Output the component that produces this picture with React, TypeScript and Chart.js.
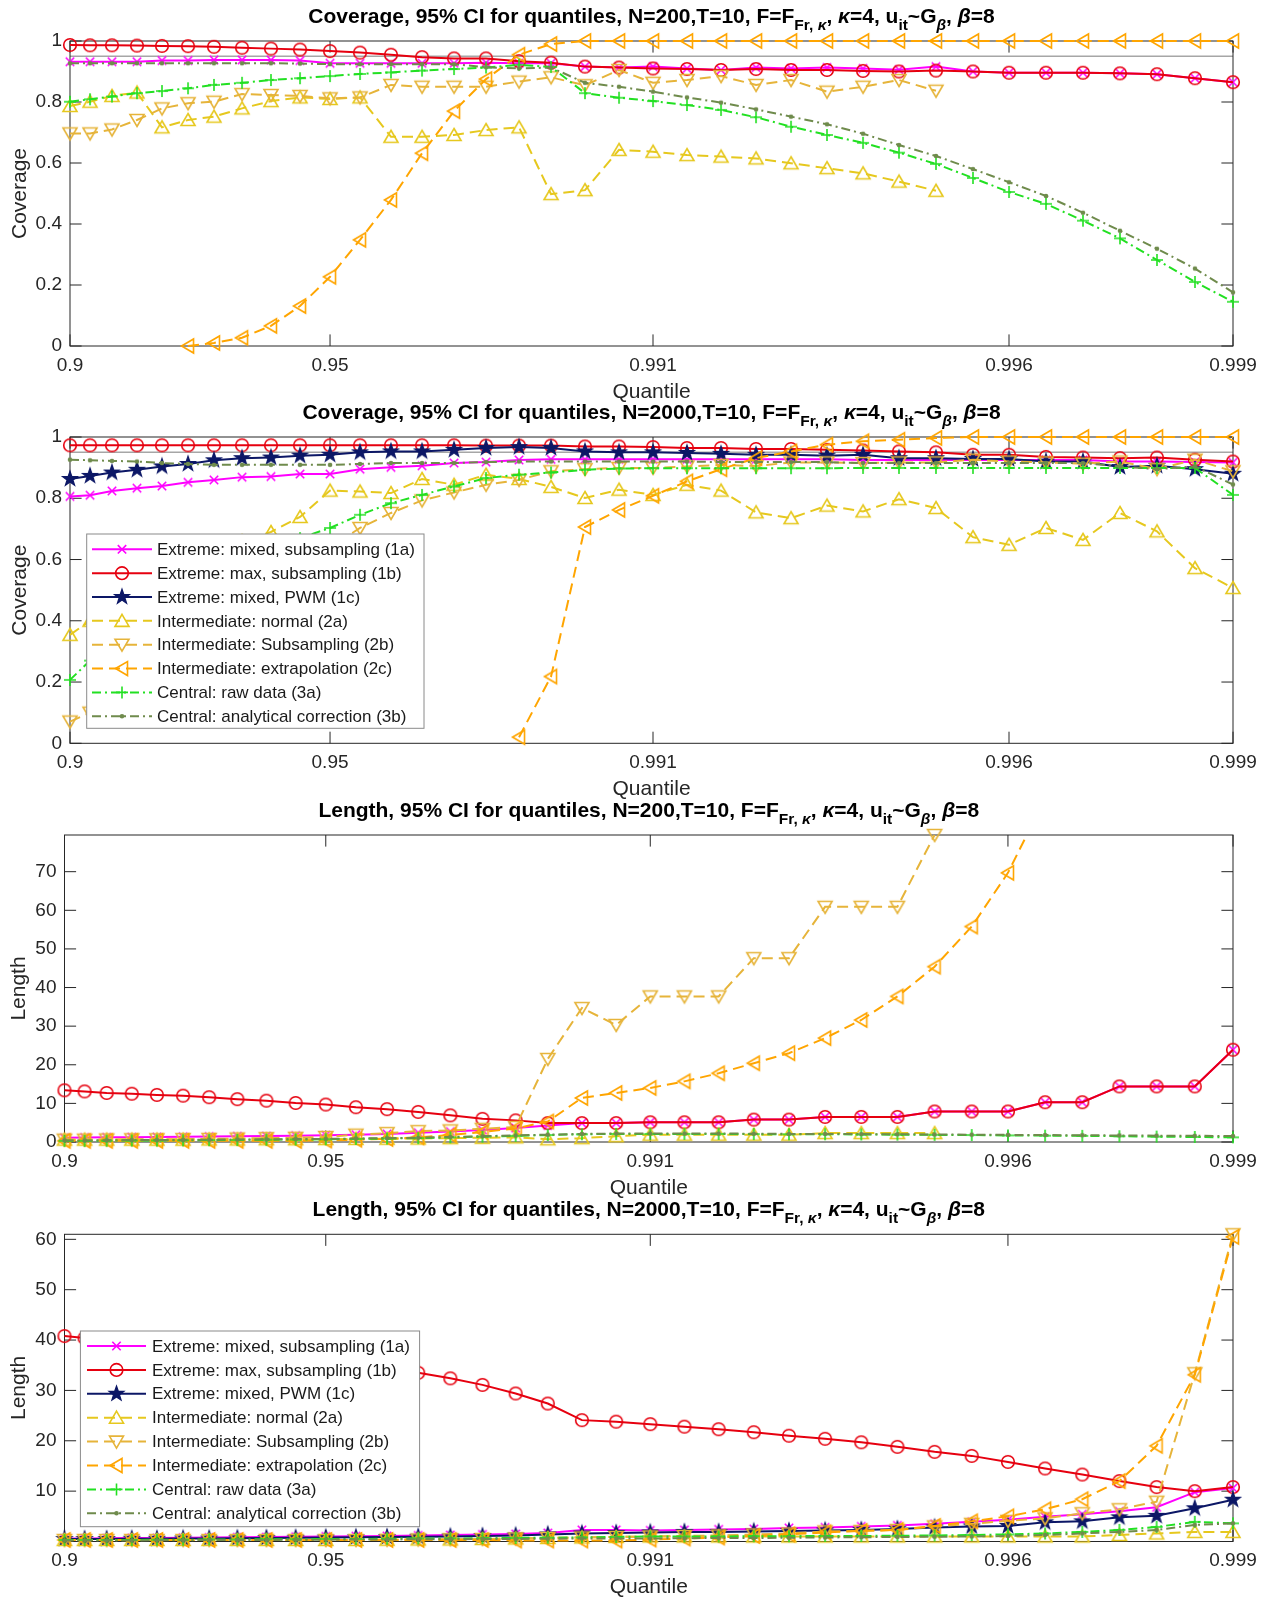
import React, { useEffect, useRef } from 'react';
import { Chart, registerables } from 'chart.js';

Chart.register(...registerables);

const FONT = '"Liberation Sans", Arial, Helvetica, sans-serif';
const AX = '#262626';
const _ = null;

// ---------------- data ----------------
// position of each of the 37 quantile levels along the (non-uniform) x axis, normalised 0..1
const QUANT_POS = [0, 0.0172, 0.0361, 0.0576, 0.0791, 0.1015, 0.1238, 0.1479, 0.1728, 0.1978, 0.2236,
  0.2494, 0.276, 0.3027, 0.3302, 0.3577, 0.3861, 0.4136, 0.4428, 0.4721, 0.5013, 0.5305, 0.5598,
  0.5899, 0.62, 0.6509, 0.6819, 0.7128, 0.7446, 0.7764, 0.8074, 0.8392, 0.871, 0.9028, 0.9346,
  0.9673, 1];
const X_TICK_INDEX = [0, 10, 20, 30, 36];
const X_TICK_LABELS = ['0.9', '0.95', '0.991', '0.996', '0.999'];
const COV_TICKS = [0, 0.2, 0.4, 0.6, 0.8, 1];
const LEN200_TICKS = [0, 10, 20, 30, 40, 50, 60, 70];
const LEN2000_TICKS = [10, 20, 30, 40, 50, 60];
const TARGET_COVERAGE = 0.95;

const SERIES_LABELS = [
  'Extreme: mixed, subsampling (1a)',
  'Extreme: max, subsampling (1b)',
  'Extreme: mixed, PWM (1c)',
  'Intermediate: normal (2a)',
  'Intermediate: Subsampling (2b)',
  'Intermediate: extrapolation (2c)',
  'Central: raw data (3a)',
  'Central: analytical correction (3b)',
];

// Coverage, N=200
const COV200_1A = [0.932, 0.932, 0.932, 0.932, 0.936, 0.936, 0.938, 0.938, 0.938, 0.936, 0.927, 0.927, 0.927, 0.927, 0.927,
  0.929, 0.927, 0.927, 0.916, 0.913, 0.916, 0.91, 0.905, 0.913, 0.91, 0.913, 0.91,
  0.906, 0.916, 0.9, 0.896, 0.896, 0.896, 0.894, 0.891, 0.878, 0.865];
const COV200_1B = [0.987, 0.986, 0.986, 0.985, 0.984, 0.983, 0.981, 0.978, 0.975, 0.972, 0.967, 0.962, 0.955, 0.947, 0.943,
  0.943, 0.934, 0.929, 0.916, 0.913, 0.91, 0.908, 0.905, 0.908, 0.905, 0.905, 0.902,
  0.9, 0.903, 0.9, 0.896, 0.896, 0.896, 0.894, 0.891, 0.878, 0.865];
const COV200_2A = [0.787, 0.801, 0.82, 0.831, 0.717, 0.741, 0.752, 0.779, 0.803, 0.815, 0.81, 0.815, 0.686, 0.686, 0.692,
  0.708, 0.717, 0.498, 0.511, 0.643, 0.637, 0.626, 0.621, 0.615, 0.599, 0.583, 0.566,
  0.539, 0.509, _, _, _, _, _, _, _, _];
const COV200_2B = [0.697, 0.697, 0.71, 0.741, 0.779, 0.796, 0.801, 0.826, 0.823, 0.82, 0.812, 0.815, 0.856, 0.85, 0.85,
  0.85, 0.867, 0.881, 0.855, 0.905, 0.863, 0.872, 0.885, 0.856, 0.872, 0.834, 0.85,
  0.872, 0.837, _, _, _, _, _, _, _, _];
const COV200_2C = [_, _, _, _, _, 0, 0.01, 0.027, 0.066, 0.131, 0.227, 0.348, 0.479, 0.632, 0.77,
  0.875, 0.955, 0.99, 1, 1, 1, 1, 1, 1, 1, 1, 1,
  1, 1, 1, 1, 1, 1, 1, 1, 1, 1];
const COV200_3A = [0.801, 0.809, 0.818, 0.829, 0.836, 0.845, 0.856, 0.863, 0.872, 0.878, 0.885, 0.892, 0.897, 0.903, 0.908,
  0.913, 0.922, 0.915, 0.829, 0.814, 0.803, 0.79, 0.774, 0.75, 0.719, 0.692, 0.666,
  0.634, 0.597, 0.551, 0.505, 0.466, 0.411, 0.353, 0.282, 0.21, 0.145];
const COV200_3B = [0.927, 0.927, 0.927, 0.927, 0.927, 0.927, 0.927, 0.927, 0.927, 0.926, 0.924, 0.924, 0.924, 0.924, 0.924,
  0.914, 0.91, 0.913, 0.863, 0.85, 0.834, 0.815, 0.798, 0.776, 0.752, 0.727, 0.696,
  0.659, 0.623, 0.58, 0.537, 0.492, 0.437, 0.378, 0.319, 0.254, 0.176];

// Coverage, N=2000
const COV2000_1A = [0.806, 0.81, 0.824, 0.833, 0.84, 0.852, 0.86, 0.869, 0.871, 0.879, 0.879, 0.895, 0.901, 0.906, 0.915,
  0.918, 0.925, 0.927, 0.927, 0.927, 0.927, 0.927, 0.927, 0.927, 0.927, 0.927, 0.925,
  0.925, 0.925, 0.925, 0.925, 0.925, 0.925, 0.92, 0.92, 0.918, 0.917];
const COV2000_1B = [0.973, 0.973, 0.973, 0.973, 0.973, 0.973, 0.973, 0.973, 0.973, 0.973, 0.973, 0.973, 0.973, 0.973, 0.973,
  0.972, 0.972, 0.972, 0.969, 0.969, 0.967, 0.964, 0.964, 0.961, 0.961, 0.958, 0.956,
  0.953, 0.95, 0.942, 0.942, 0.935, 0.933, 0.931, 0.933, 0.926, 0.92];
const COV2000_1C = [0.863, 0.873, 0.884, 0.893, 0.904, 0.912, 0.924, 0.931, 0.933, 0.939, 0.942, 0.95, 0.953, 0.953, 0.958,
  0.964, 0.967, 0.964, 0.953, 0.95, 0.95, 0.948, 0.945, 0.942, 0.942, 0.939, 0.942,
  0.931, 0.931, 0.928, 0.928, 0.92, 0.92, 0.902, 0.906, 0.895, 0.88];
const COV2000_2A = [0.354, 0.4, 0.44, 0.49, 0.53, 0.57, 0.61, 0.66, 0.69, 0.739, 0.825, 0.822, 0.817, 0.863, 0.844,
  0.877, 0.863, 0.837, 0.801, 0.828, 0.811, 0.844, 0.825, 0.754, 0.735, 0.776, 0.757,
  0.797, 0.768, 0.673, 0.648, 0.703, 0.664, 0.752, 0.692, 0.572, 0.507];
const COV2000_2B = [0.071, 0.1, 0.15, 0.2, 0.26, 0.32, 0.38, 0.45, 0.52, 0.58, 0.64, 0.703, 0.752, 0.793, 0.819,
  0.844, 0.86, 0.888, 0.895, 0.899, 0.899, 0.904, 0.909, 0.905, 0.917, 0.917, 0.915,
  0.917, 0.917, 0.926, 0.92, 0.917, 0.913, 0.92, 0.895, 0.926, 0.888];
const COV2000_2C = [_, _, _, _, _, _, _, _, _, _, _, _, _, _, _,
  _, 0.02, 0.218, 0.706, 0.762, 0.808, 0.855, 0.895, 0.931, 0.953, 0.975, 0.986,
  0.991, 0.997, 1, 1, 1, 1, 1, 1, 1, 1];
const COV2000_3A = [0.207, 0.27, 0.33, 0.39, 0.44, 0.5, 0.55, 0.6, 0.64, 0.67, 0.703, 0.746, 0.784, 0.811, 0.839,
  0.866, 0.877, 0.884, 0.893, 0.897, 0.898, 0.898, 0.898, 0.898, 0.898, 0.898, 0.899,
  0.899, 0.899, 0.899, 0.899, 0.899, 0.899, 0.899, 0.899, 0.899, 0.811];
const COV2000_3B = [0.926, 0.924, 0.922, 0.92, 0.915, 0.912, 0.909, 0.909, 0.909, 0.909, 0.909, 0.912, 0.915, 0.915, 0.915,
  0.918, 0.92, 0.92, 0.92, 0.92, 0.92, 0.92, 0.918, 0.918, 0.918, 0.918, 0.915,
  0.915, 0.915, 0.915, 0.915, 0.915, 0.915, 0.904, 0.895, 0.904, 0.845];

// Length, N=200
const LEN200_1A = [1.1, 1.15, 1.2, 1.25, 1.3, 1.35, 1.4, 1.5, 1.55, 1.65, 1.75, 1.9, 2.1, 2.4, 2.7,
  3.1, 3.6, 4.3, 4.9, 4.9, 5.1, 5.1, 5.1, 5.8, 5.8, 6.5, 6.5,
  6.5, 7.9, 7.9, 7.9, 10.3, 10.3, 14.4, 14.4, 14.4, 23.9];
const LEN200_1B = [13.4, 13.1, 12.7, 12.5, 12.2, 12.0, 11.6, 11.1, 10.7, 10.1, 9.7, 9.0, 8.5, 7.8, 6.9,
  6.0, 5.6, 4.9, 4.9, 4.9, 5.1, 5.1, 5.1, 5.8, 5.8, 6.5, 6.5,
  6.5, 7.9, 7.9, 7.9, 10.3, 10.3, 14.4, 14.4, 14.4, 23.9];
const LEN200_2A = [0.6, 0.6, 0.6, 0.6, 0.6, 0.6, 0.65, 0.65, 0.7, 0.7, 0.75, 0.8, 0.85, 0.9, 1.0,
  1.1, 1.2, 0.7, 1.0, 1.5, 1.9, 1.9, 1.9, 1.9, 1.9, 2.3, 2.3,
  2.3, 2.3, _, _, _, _, _, _, _, _];
const LEN200_2B = [0.6, 0.6, 0.65, 0.7, 0.7, 0.75, 0.8, 0.9, 1.0, 1.1, 1.3, 1.9, 2.3, 2.8, 3.0,
  3.4, 3.9, 21.5, 34.7, 30.3, 37.7, 37.7, 37.7, 47.6, 47.6, 60.9, 60.9,
  60.9, 79.5, _, _, _, _, _, _, _, _];
const LEN200_2C = [0.3, 0.3, 0.3, 0.3, 0.3, 0.3, 0.3, 0.3, 0.3, 0.3, 0.4, 0.6, 0.8, 1.2, 1.8,
  2.6, 3.5, 5.3, 11.4, 12.7, 14.0, 15.7, 17.8, 20.4, 23.0, 26.9, 31.6,
  37.7, 45.4, 55.8, 69.7, 89, 112, 140, 175, 220, 280];
const LEN200_3A = [0.3, 0.3, 0.35, 0.4, 0.4, 0.45, 0.5, 0.55, 0.6, 0.65, 0.7, 0.8, 0.9, 1.0, 1.2,
  1.4, 1.6, 1.8, 2.0, 2.1, 2.1, 2.1, 2.1, 2.05, 2.0, 2.0, 1.95,
  1.9, 1.85, 1.8, 1.7, 1.65, 1.6, 1.5, 1.4, 1.3, 1.2];
const LEN200_3B = [0.4, 0.4, 0.45, 0.5, 0.5, 0.55, 0.6, 0.65, 0.7, 0.75, 0.8, 0.9, 1.0, 1.1, 1.3,
  1.5, 1.7, 1.9, 2.1, 2.2, 2.2, 2.2, 2.2, 2.15, 2.1, 2.1, 2.05,
  2.0, 1.95, 1.9, 1.85, 1.8, 1.75, 1.7, 1.65, 1.6, 1.55];

// Length, N=2000
const LEN2000_1A = [0.6, 0.6, 0.65, 0.7, 0.7, 0.75, 0.8, 0.85, 0.9, 0.95, 1.0, 1.05, 1.1, 1.2, 1.3,
  1.4, 1.5, 1.7, 2.3, 2.3, 2.2, 2.3, 2.4, 2.5, 2.7, 2.8, 3.0,
  3.2, 3.5, 3.9, 4.3, 4.9, 5.4, 6.0, 6.8, 9.8, 10.6];
const LEN2000_1B = [40.8, 40.4, 40.0, 39.6, 39.2, 38.8, 38.3, 37.8, 37.2, 36.6, 35.9, 35.1, 34.3, 33.5, 32.4,
  31.1, 29.4, 27.4, 24.1, 23.8, 23.3, 22.8, 22.3, 21.7, 21.0, 20.4, 19.7,
  18.8, 17.8, 17.0, 15.8, 14.5, 13.3, 12.0, 10.8, 10.0, 10.8];
const LEN2000_1C = [0.5, 0.5, 0.5, 0.55, 0.55, 0.6, 0.6, 0.65, 0.7, 0.75, 0.8, 0.85, 0.9, 0.95, 1.0,
  1.1, 1.2, 1.4, 1.6, 1.7, 1.8, 1.9, 1.9, 2.0, 2.1, 2.2, 2.3,
  2.5, 2.8, 3.0, 3.1, 3.8, 4.0, 4.8, 5.1, 6.6, 8.3];
const LEN2000_2A = [0.3, 0.3, 0.3, 0.3, 0.3, 0.3, 0.3, 0.3, 0.3, 0.3, 0.3, 0.3, 0.35, 0.4, 0.4,
  0.5, 0.6, 0.7, 0.8, 0.9, 1.0, 1.0, 1.0, 1.0, 1.0, 1.0, 1.0,
  1.0, 1.0, 1.0, 1.0, 1.0, 1.0, 1.3, 1.6, 1.9, 1.9];
const LEN2000_2B = [0.3, 0.3, 0.3, 0.3, 0.3, 0.3, 0.3, 0.3, 0.3, 0.3, 0.3, 0.3, 0.35, 0.4, 0.45,
  0.5, 0.6, 0.7, 0.8, 0.9, 1.0, 1.1, 1.2, 1.4, 1.6, 2.0, 2.1,
  2.3, 3.0, 3.5, 4.1, 4.6, 5.6, 6.4, 7.9, 33.4, 61.0];
const LEN2000_2C = [0.3, 0.3, 0.3, 0.3, 0.3, 0.3, 0.3, 0.3, 0.3, 0.3, 0.3, 0.3, 0.3, 0.3, 0.3,
  0.3, 0.2, 0.2, 0.2, 0.2, 0.4, 0.6, 0.8, 1.1, 1.4, 1.8, 2.1,
  2.3, 3.1, 4.0, 5.0, 6.4, 8.4, 12.0, 19.0, 33.1, 60.5];
const LEN2000_3A = [0.3, 0.3, 0.3, 0.3, 0.35, 0.35, 0.4, 0.4, 0.45, 0.45, 0.5, 0.5, 0.55, 0.6, 0.6,
  0.65, 0.7, 0.75, 0.8, 0.9, 1.0, 1.0, 1.0, 1.05, 1.05, 1.1, 1.1,
  1.15, 1.2, 1.3, 1.4, 1.6, 1.9, 2.3, 2.9, 3.9, 3.6];
const LEN2000_3B = [0.2, 0.2, 0.2, 0.2, 0.25, 0.25, 0.3, 0.3, 0.3, 0.35, 0.35, 0.4, 0.4, 0.45, 0.45,
  0.5, 0.5, 0.55, 0.6, 0.6, 0.6, 0.65, 0.7, 0.7, 0.75, 0.8, 0.85,
  0.9, 0.95, 1.0, 1.1, 1.3, 1.6, 1.9, 2.3, 3.3, 3.6];

// ---------------- styles ----------------
type MarkerKind = 'x' | 'circle' | 'star' | 'triUp' | 'triDown' | 'triLeft' | 'plus' | 'dot';
const SERIES_STYLE: { color: string; dash: number[]; marker: MarkerKind; width: number }[] = [
  { color: '#FF00FF', dash: [], marker: 'x', width: 2 },
  { color: '#E6000F', dash: [], marker: 'circle', width: 2 },
  { color: '#0C1766', dash: [], marker: 'star', width: 2 },
  { color: '#E6C81E', dash: [11, 6], marker: 'triUp', width: 2 },
  { color: '#E6B43A', dash: [11, 6], marker: 'triDown', width: 2 },
  { color: '#FFA500', dash: [11, 6], marker: 'triLeft', width: 2 },
  { color: '#22E022', dash: [9, 4, 2, 4], marker: 'plus', width: 2 },
  { color: '#6F8B4C', dash: [9, 4, 2, 4], marker: 'dot', width: 2 },
];

function drawMarker(ctx: CanvasRenderingContext2D, kind: MarkerKind, x: number, y: number, color: string) {
  ctx.save();
  ctx.setLineDash([]);
  ctx.strokeStyle = color;
  ctx.fillStyle = color;
  ctx.lineWidth = 1.6;
  ctx.lineJoin = 'miter';
  ctx.beginPath();
  switch (kind) {
    case 'circle':
      ctx.arc(x, y, 6.3, 0, Math.PI * 2);
      ctx.stroke();
      break;
    case 'x': {
      const r = 4.2;
      ctx.moveTo(x - r, y - r); ctx.lineTo(x + r, y + r);
      ctx.moveTo(x + r, y - r); ctx.lineTo(x - r, y + r);
      ctx.stroke();
      break;
    }
    case 'plus': {
      const r = 6;
      ctx.moveTo(x - r, y); ctx.lineTo(x + r, y);
      ctx.moveTo(x, y - r); ctx.lineTo(x, y + r);
      ctx.stroke();
      break;
    }
    case 'triUp':
      ctx.moveTo(x, y - 6.5); ctx.lineTo(x + 7, y + 5.5); ctx.lineTo(x - 7, y + 5.5); ctx.closePath();
      ctx.stroke();
      break;
    case 'triDown':
      ctx.moveTo(x, y + 6.5); ctx.lineTo(x + 7, y - 5.5); ctx.lineTo(x - 7, y - 5.5); ctx.closePath();
      ctx.stroke();
      break;
    case 'triLeft':
      ctx.moveTo(x - 6.5, y); ctx.lineTo(x + 5.5, y - 7); ctx.lineTo(x + 5.5, y + 7); ctx.closePath();
      ctx.stroke();
      break;
    case 'star': {
      const R = 7.8, r = 3.1;
      for (let i = 0; i < 10; i++) {
        const a = -Math.PI / 2 + (i * Math.PI) / 5;
        const rr = i % 2 === 0 ? R : r;
        const px = x + Math.cos(a) * rr, py = y + Math.sin(a) * rr;
        if (i === 0) ctx.moveTo(px, py); else ctx.lineTo(px, py);
      }
      ctx.closePath();
      ctx.fill();
      ctx.lineWidth = 1.2;
      ctx.stroke();
      break;
    }
    case 'dot':
      ctx.arc(x, y, 2.3, 0, Math.PI * 2);
      ctx.fill();
      break;
  }
  ctx.restore();
}

function markerCanvas(kind: MarkerKind, color: string): HTMLCanvasElement {
  const c = document.createElement('canvas');
  c.width = 24; c.height = 24;
  const ctx = c.getContext('2d')!;
  drawMarker(ctx, kind, 12, 12, color);
  return c;
}

type Seg = { t: string; sub?: boolean; it?: boolean };
const TITLE_TAIL: Seg[] = [
  { t: 'Fr, ', sub: true }, { t: 'κ', sub: true, it: true }, { t: ', ' }, { t: 'κ', it: true },
  { t: '=4, u' }, { t: 'it', sub: true }, { t: '~G' }, { t: 'β', sub: true, it: true },
  { t: ', ' }, { t: 'β', it: true }, { t: '=8' },
];

type LegendDef = { x0: number; y0: number; x1: number; y1: number; rowY: number; step: number; lx0: number; lx1: number; mx: number; tx: number };
type Panel = {
  canvasTop: number; canvasH: number; plotTop: number; plotBottom: number; plotLeft: number; plotRight: number;
  yMin: number; yMax: number; yTicks: number[]; ref: number | null; head: string; yLabel: string; yLabelX: number;
  series: ((number | null)[] | null)[]; legend: LegendDef | null;
};

const PANELS: Panel[] = [
  {
    canvasTop: 0, canvasH: 410, plotTop: 41, plotBottom: 346, plotLeft: 70, plotRight: 1233,
    yMin: 0, yMax: 1, yTicks: COV_TICKS, ref: TARGET_COVERAGE,
    head: 'Coverage, 95% CI for quantiles, N=200,T=10, F=F', yLabel: 'Coverage', yLabelX: 20.5,
    series: [COV200_1A, COV200_1B, null, COV200_2A, COV200_2B, COV200_2C, COV200_3A, COV200_3B], legend: null,
  },
  {
    canvasTop: 396, canvasH: 410, plotTop: 437, plotBottom: 743.3, plotLeft: 70, plotRight: 1233,
    yMin: 0, yMax: 1, yTicks: COV_TICKS, ref: TARGET_COVERAGE,
    head: 'Coverage, 95% CI for quantiles, N=2000,T=10, F=F', yLabel: 'Coverage', yLabelX: 20.5,
    series: [COV2000_1A, COV2000_1B, COV2000_1C, COV2000_2A, COV2000_2B, COV2000_2C, COV2000_3A, COV2000_3B],
    legend: { x0: 86.7, y0: 534, x1: 424, y1: 728.3, rowY: 549.3, step: 23.85, lx0: 92, lx1: 152, mx: 122, tx: 157 },
  },
  {
    canvasTop: 790, canvasH: 412, plotTop: 835, plotBottom: 1142, plotLeft: 64.5, plotRight: 1233,
    yMin: 0, yMax: 79.5, yTicks: LEN200_TICKS, ref: null,
    head: 'Length, 95% CI for quantiles, N=200,T=10, F=F', yLabel: 'Length', yLabelX: 19,
    series: [LEN200_1A, LEN200_1B, null, LEN200_2A, LEN200_2B, LEN200_2C, LEN200_3A, LEN200_3B], legend: null,
  },
  {
    canvasTop: 1185, canvasH: 417, plotTop: 1234.3, plotBottom: 1541.5, plotLeft: 64.5, plotRight: 1233,
    yMin: 0, yMax: 61, yTicks: LEN2000_TICKS, ref: null,
    head: 'Length, 95% CI for quantiles, N=2000,T=10, F=F', yLabel: 'Length', yLabelX: 19,
    series: [LEN2000_1A, LEN2000_1B, LEN2000_1C, LEN2000_2A, LEN2000_2B, LEN2000_2C, LEN2000_3A, LEN2000_3B],
    legend: { x0: 80.4, y0: 1331, x1: 419.6, y1: 1526.7, rowY: 1346, step: 23.9, lx0: 87, lx1: 146, mx: 116.5, tx: 152 },
  },
];

function drawTitle(ctx: CanvasRenderingContext2D, head: string, cx: number, cy: number) {
  const size = 21, subSize = 15.5;
  const segs: Seg[] = [{ t: head }, ...TITLE_TAIL];
  const font = (s: Seg) => `${s.it ? 'italic ' : ''}bold ${s.sub ? subSize : size}px ${FONT}`;
  let total = 0;
  const ws = segs.map((s) => { ctx.font = font(s); const w = ctx.measureText(s.t).width; total += w; return w; });
  let x = cx - total / 2;
  const base = cy + size * 0.36;
  ctx.fillStyle = '#000';
  ctx.textAlign = 'left';
  ctx.textBaseline = 'alphabetic';
  segs.forEach((s, i) => {
    ctx.font = font(s);
    ctx.fillText(s.t, x, base + (s.sub ? 7.5 : 0));
    x += ws[i];
  });
}

function makeChart(canvas: HTMLCanvasElement, p: Panel): Chart {
  const datasets: any[] = [];
  p.series.forEach((vals, k) => {
    if (!vals) return;
    const st = SERIES_STYLE[k];
    const exceeds = vals.some((v) => v != null && v > p.yMax + 1e-9);
    datasets.push({
      label: SERIES_LABELS[k],
      data: QUANT_POS.map((x, i) => ({ x, y: vals[i] })),
      borderColor: st.color,
      backgroundColor: st.color,
      borderWidth: st.width,
      borderDash: st.dash,
      pointStyle: markerCanvas(st.marker, st.color),
      pointRadius: 7,
      pointHoverRadius: 7,
      pointBorderWidth: 0,
      tension: 0,
      fill: false,
      spanGaps: false,
      order: 8 - k,
      clip: exceeds ? { left: 10, right: 10, top: 0, bottom: 10 } : 10,
    });
  });

  const top = p.canvasTop;
  const decor = {
    id: 'decor',
    beforeDatasetsDraw(chart: any) {
      const { ctx, chartArea: a, scales } = chart;
      const xs = scales.x, ys = scales.y;
      ctx.save();
      if (p.ref != null) {
        const yy = ys.getPixelForValue(p.ref);
        ctx.strokeStyle = '#a6a6a6';
        ctx.lineWidth = 1.5;
        ctx.beginPath(); ctx.moveTo(a.left, yy); ctx.lineTo(a.right, yy); ctx.stroke();
      }
      ctx.strokeStyle = AX;
      ctx.lineWidth = 1;
      ctx.strokeRect(a.left, a.top, a.right - a.left, a.bottom - a.top);
      const tl = 11.6;
      ctx.beginPath();
      X_TICK_INDEX.forEach((i) => {
        const px = xs.getPixelForValue(QUANT_POS[i]);
        ctx.moveTo(px, a.bottom); ctx.lineTo(px, a.bottom - tl);
        ctx.moveTo(px, a.top); ctx.lineTo(px, a.top + tl);
      });
      p.yTicks.forEach((v) => {
        const py = ys.getPixelForValue(v);
        ctx.moveTo(a.left, py); ctx.lineTo(a.left + tl, py);
        ctx.moveTo(a.right, py); ctx.lineTo(a.right - tl, py);
      });
      ctx.stroke();
      ctx.restore();
    },
    afterDatasetsDraw(chart: any) {
      const L = p.legend;
      if (!L) return;
      const ctx: CanvasRenderingContext2D = chart.ctx;
      ctx.save();
      ctx.fillStyle = '#fff';
      ctx.fillRect(L.x0, L.y0 - top, L.x1 - L.x0, L.y1 - L.y0);
      ctx.strokeStyle = '#8a8a8a';
      ctx.lineWidth = 1;
      ctx.strokeRect(L.x0, L.y0 - top, L.x1 - L.x0, L.y1 - L.y0);
      SERIES_LABELS.forEach((lab, k) => {
        const st = SERIES_STYLE[k];
        const yy = L.rowY + k * L.step - top;
        ctx.strokeStyle = st.color;
        ctx.lineWidth = st.width;
        ctx.setLineDash(st.dash);
        ctx.beginPath(); ctx.moveTo(L.lx0, yy); ctx.lineTo(L.lx1, yy); ctx.stroke();
        ctx.setLineDash([]);
        drawMarker(ctx, st.marker, L.mx, yy, st.color);
        ctx.fillStyle = '#1a1a1a';
        ctx.font = `17px ${FONT}`;
        ctx.textAlign = 'left';
        ctx.textBaseline = 'middle';
        ctx.fillText(lab, L.tx, yy + 1);
      });
      ctx.restore();
    },
    afterDraw(chart: any) {
      const { ctx, chartArea: a } = chart;
      ctx.save();
      const cx = (a.left + a.right) / 2;
      drawTitle(ctx, p.head, cx, a.top - 26);
      ctx.fillStyle = AX;
      ctx.font = `21px ${FONT}`;
      ctx.textAlign = 'center';
      ctx.textBaseline = 'middle';
      ctx.fillText('Quantile', cx, a.bottom + 46);
      ctx.translate(p.yLabelX, (a.top + a.bottom) / 2);
      ctx.rotate(-Math.PI / 2);
      ctx.fillText(p.yLabel, 0, 0);
      ctx.restore();
    },
  };

  return new Chart(canvas, {
    type: 'line',
    data: { datasets },
    options: {
      responsive: false,
      animation: false,
      events: [],
      layout: { padding: { top: p.plotTop - top, right: 1270 - p.plotRight, left: 0, bottom: 0 } },
      plugins: { legend: { display: false }, tooltip: { enabled: false }, title: { display: false } },
      scales: {
        x: {
          type: 'linear',
          min: 0,
          max: 1,
          offset: false,
          grid: { display: false, drawTicks: false },
          border: { display: false },
          afterBuildTicks: (s: any) => { s.ticks = X_TICK_INDEX.map((i) => ({ value: QUANT_POS[i] })); },
          afterFit: (s: any) => { s.height = p.canvasH - (p.plotBottom - top); },
          ticks: {
            autoSkip: false,
            maxRotation: 0,
            padding: 8,
            color: AX,
            font: { family: FONT, size: 19 },
            callback: (_v: any, i: number) => X_TICK_LABELS[i],
          },
        },
        y: {
          type: 'linear',
          min: p.yMin,
          max: p.yMax,
          grid: { display: false, drawTicks: false },
          border: { display: false },
          afterBuildTicks: (s: any) => { s.ticks = p.yTicks.map((v) => ({ value: v })); },
          afterFit: (s: any) => { s.width = p.plotLeft; },
          ticks: {
            autoSkip: false,
            padding: 8,
            color: AX,
            font: { family: FONT, size: 19 },
            callback: (v: any) => String(v),
          },
        },
      },
    } as any,
    plugins: [decor],
  });
}

export default function App() {
  const canvases = useRef<(HTMLCanvasElement | null)[]>([]);
  useEffect(() => {
    const charts = PANELS.map((p, k) => makeChart(canvases.current[k]!, p));
    return () => charts.forEach((c) => c.destroy());
  }, []);
  return (
    <div style={{ position: 'absolute', left: 0, top: 0, width: 1270, height: 1602, background: '#fff' }}>
      {PANELS.map((p, k) => (
        <canvas
          key={k}
          ref={(el) => { canvases.current[k] = el; }}
          width={1270}
          height={p.canvasH}
          style={{ position: 'absolute', left: 0, top: p.canvasTop, width: 1270, height: p.canvasH }}
        />
      ))}
    </div>
  );
}
